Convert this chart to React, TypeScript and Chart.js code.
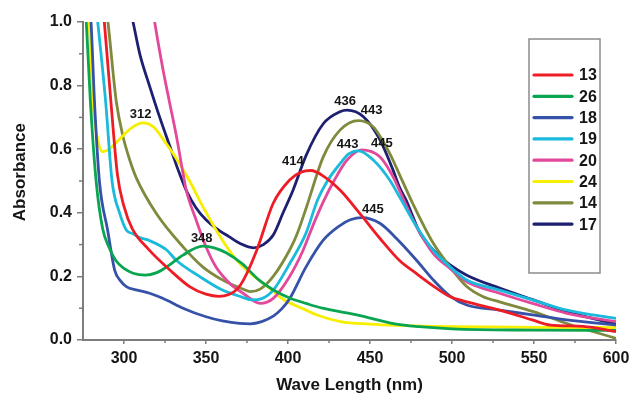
import React, { useEffect, useRef } from "react";
import { Chart, registerables } from "chart.js";

Chart.register(...registerables);

// ---------- data ----------
const seriesNames = ["13", "26", "18", "19", "20", "24", "14", "17"];
const seriesColors = ["#ee1c25", "#0aa550", "#3552a8", "#1bb9dc", "#e2499b", "#f7ee00", "#7f8a3c", "#1d1f70"];

const s13: number[][] = [
  [275, 1.6], [280, 1.42], [284, 1.2], [288, 1.0], [292, 0.75], [296, 0.52], [300, 0.42], [305, 0.35],
  [315, 0.285], [328, 0.22], [340, 0.168], [350, 0.144], [358, 0.137], [364, 0.143], [369, 0.16],
  [373, 0.19], [381, 0.283], [391, 0.43], [401, 0.503], [408, 0.528], [414, 0.533], [422, 0.514],
  [432, 0.47], [445, 0.39], [456, 0.32], [468, 0.25], [478, 0.21], [488, 0.172], [499, 0.136],
  [509, 0.12], [529, 0.094], [549, 0.063], [560, 0.047], [580, 0.043], [600, 0.026],
];
const s26: number[][] = [
  [275, 1.25], [277, 1.0], [279.5, 0.75], [283, 0.5], [287, 0.35], [291, 0.29], [295, 0.25],
  [300, 0.225], [305.5, 0.21], [313, 0.204], [320, 0.212], [326, 0.23], [336, 0.267], [348, 0.295],
  [355, 0.29], [362, 0.275], [372, 0.24], [382, 0.19], [392, 0.155], [401, 0.132], [411, 0.115],
  [421, 0.1], [442, 0.079], [466, 0.05], [480, 0.042], [500, 0.035], [550, 0.031], [600, 0.03],
];
const s18: number[][] = [
  [275, 1.3], [279.9, 1.0], [282, 0.75], [285, 0.5], [290, 0.346], [294.3, 0.22], [298, 0.185],
  [301.4, 0.168], [308, 0.157], [315.6, 0.147], [325.8, 0.126], [336, 0.1], [350, 0.073], [360, 0.06],
  [370.5, 0.052], [377, 0.051], [384, 0.058], [391, 0.075], [396, 0.097], [401, 0.13], [411, 0.23],
  [421.5, 0.314], [431.7, 0.36], [438, 0.378], [445, 0.385], [456, 0.367], [466, 0.32], [478.5, 0.25],
  [488.4, 0.19], [498.8, 0.138], [509, 0.11], [529, 0.094], [549, 0.079], [570, 0.063], [600, 0.047],
];
const s19: number[][] = [
  [275, 1.4], [280, 1.2], [284, 1.0], [288.8, 0.75], [292.7, 0.5], [297.4, 0.398], [301.4, 0.346],
  [305.5, 0.334], [309.6, 0.322], [315.8, 0.312], [326, 0.283], [332, 0.25], [346, 0.2], [360, 0.157],
  [372, 0.135], [378, 0.126], [384, 0.13], [391, 0.157], [401, 0.24], [411, 0.336], [418, 0.44],
  [424, 0.5], [432, 0.556], [437, 0.585], [443, 0.595], [452, 0.566], [462, 0.503], [468, 0.45],
  [478.5, 0.356], [488.4, 0.283], [498.8, 0.23], [509, 0.189], [529, 0.157], [549, 0.126], [570, 0.094],
  [600, 0.068],
];
const s20: number[][] = [
  [275, 2.5], [300, 1.8], [310, 1.3], [318.7, 1.0], [323.8, 0.85], [327.9, 0.744], [332, 0.64],
  [336, 0.524], [338, 0.47], [344, 0.377], [350, 0.293], [356, 0.23], [364.5, 0.178], [372.6, 0.147],
  [383, 0.115], [391, 0.131], [401, 0.2], [409, 0.28], [416, 0.37], [422, 0.44], [428, 0.5],
  [436, 0.566], [445, 0.598], [456, 0.576], [464, 0.514], [468, 0.47], [478, 0.36], [488.6, 0.272],
  [498.8, 0.225], [509, 0.183], [529, 0.147], [549, 0.115], [570, 0.084], [600, 0.058],
];
const s24: number[][] = [
  [275, 1.3], [278.7, 1.0], [281, 0.75], [284, 0.63], [287, 0.592], [291, 0.6], [297, 0.63],
  [304, 0.665], [311.6, 0.683], [318, 0.67], [324, 0.63], [332, 0.57], [340, 0.5], [348, 0.42],
  [358, 0.33], [368, 0.255], [377, 0.21], [387, 0.17], [397, 0.128], [411, 0.094], [417, 0.08],
  [432, 0.058], [450, 0.05], [466, 0.046], [500, 0.042], [550, 0.04], [600, 0.039],
];
const s14: number[][] = [
  [275, 1.6], [285, 1.2], [290.2, 1.0], [295.3, 0.75], [299.4, 0.64], [303.5, 0.566], [307.5, 0.51],
  [319.7, 0.398], [336, 0.293], [348, 0.23], [360, 0.189], [372.6, 0.16], [377, 0.152], [383, 0.16],
  [391, 0.2], [401, 0.283], [405.3, 0.33], [411.4, 0.42], [421.5, 0.576], [431.7, 0.66], [443, 0.69],
  [452, 0.67], [462, 0.587], [468, 0.52], [476, 0.43], [488.6, 0.304], [498.8, 0.23], [509, 0.168],
  [519, 0.136], [529, 0.12], [549.6, 0.089], [570, 0.052], [600, 0.005],
];
const s17: number[][] = [
  [275, 2.0], [290, 1.4], [300, 1.12], [305.5, 1.0], [309.6, 0.9], [315.7, 0.797], [321.8, 0.7],
  [327.9, 0.61], [333, 0.535], [338, 0.47], [344, 0.415], [350, 0.378], [356, 0.352], [364, 0.325],
  [371, 0.303], [378.8, 0.29], [385, 0.3], [391, 0.33], [397, 0.4], [403, 0.47], [411, 0.58],
  [421.5, 0.68], [431.7, 0.718], [436, 0.723], [446, 0.702], [456, 0.63], [464, 0.535], [468, 0.48],
  [472, 0.44], [480.5, 0.336], [488.6, 0.283], [498.8, 0.236], [509, 0.204], [529, 0.163],
  [549.6, 0.126], [570, 0.089], [600, 0.05],
];
const seriesData = [s13, s26, s18, s19, s20, s24, s14, s17];

const xTicks = [300, 350, 400, 450, 500, 550, 600];
const yTicks = [0, 0.2, 0.4, 0.6, 0.8, 1.0];
const xMinorTicks = [325, 375, 425, 475, 525, 575];
const yMinorTicks = [0.1, 0.3, 0.5, 0.7, 0.9];

// peak annotations: series index, wavelength
const peakSeries = [5, 1, 0, 7, 6, 3, 4, 2];
const peakWavelengths = [312, 348, 414, 436, 443, 443, 445, 445];

const xTitle = "Wave Length (nm)";
const yTitle = "Absorbance";

// ---------- styles ----------
const labelOffsets = [
  [-3, -9], [-1, -8], [-18, -9], [-2, -9], [13, -10], [-11, -6], [20, -6], [11, -8],
];
const FONT = "'Liberation Sans', Arial, Helvetica, sans-serif";
const AXIS_COLOR = "#7d7d7d";
const TEXT_COLOR = "#151515";

function valueAt(series: number[][], x: number): number {
  for (let i = 0; i < series.length - 1; i++) {
    const a = series[i], b = series[i + 1];
    if (x >= a[0] && x <= b[0]) return a[1] + ((b[1] - a[1]) * (x - a[0])) / (b[0] - a[0]);
  }
  return series[series.length - 1][1];
}

const decorPlugin = {
  id: "decor",
  afterDraw(chart: any) {
    const ctx = chart.ctx as CanvasRenderingContext2D;
    const xs = chart.scales.x;
    const ys = chart.scales.y;
    const area = chart.chartArea;
    ctx.save();
    // minor ticks
    ctx.strokeStyle = AXIS_COLOR;
    ctx.lineWidth = 1.5;
    yMinorTicks.forEach((v) => {
      const p = ys.getPixelForValue(v);
      ctx.beginPath();
      ctx.moveTo(area.left - 4, p);
      ctx.lineTo(area.left, p);
      ctx.stroke();
    });
    xMinorTicks.forEach((v) => {
      const p = xs.getPixelForValue(v);
      ctx.beginPath();
      ctx.moveTo(p, area.bottom);
      ctx.lineTo(p, area.bottom + 3);
      ctx.stroke();
    });

    // y axis title
    ctx.save();
    ctx.font = `bold 17px ${FONT}`;
    ctx.fillStyle = TEXT_COLOR;
    ctx.textAlign = "center";
    ctx.textBaseline = "middle";
    ctx.translate(20, area.top + (area.bottom - area.top) * 0.472);
    ctx.rotate(-Math.PI / 2);
    ctx.fillText(yTitle, 0, 0);
    ctx.restore();

    // peak labels
    ctx.font = `bold 13px ${FONT}`;
    ctx.fillStyle = TEXT_COLOR;
    ctx.textAlign = "center";
    ctx.textBaseline = "middle";
    peakWavelengths.forEach((w, i) => {
      const s = seriesData[peakSeries[i]];
      const px = xs.getPixelForValue(w);
      const py = ys.getPixelForValue(valueAt(s, w));
      ctx.fillText(String(w), px + labelOffsets[i][0], py + labelOffsets[i][1]);
    });

    // legend box
    const boxLeft = area.right - 87;
    const boxTop = area.top + 17;
    const boxW = 71;
    const boxH = 234;
    ctx.fillStyle = "#ffffff";
    ctx.fillRect(boxLeft, boxTop, boxW, boxH);
    ctx.strokeStyle = "#8c8c8c";
    ctx.lineWidth = 1.5;
    ctx.strokeRect(boxLeft, boxTop, boxW, boxH);
    ctx.font = `bold 16px ${FONT}`;
    ctx.textAlign = "left";
    ctx.textBaseline = "middle";
    seriesNames.forEach((name, i) => {
      const y = boxTop + 36 + i * 21.3;
      ctx.strokeStyle = seriesColors[i];
      ctx.lineWidth = 3.2;
      ctx.lineCap = "round";
      ctx.beginPath();
      ctx.moveTo(boxLeft + 5, y);
      ctx.lineTo(boxLeft + 43, y);
      ctx.stroke();
      ctx.fillStyle = TEXT_COLOR;
      ctx.fillText(name, boxLeft + 50, y + 1);
    });
    ctx.restore();
  },
};

export default function App() {
  const canvasRef = useRef<HTMLCanvasElement | null>(null);

  useEffect(() => {
    const canvas = canvasRef.current;
    if (!canvas) return;
    const chart = new Chart(canvas, {
      type: "line",
      data: {
        datasets: seriesNames.map((name, i) => ({
          label: name,
          data: seriesData[i].map((p) => ({ x: p[0], y: p[1] })),
          borderColor: seriesColors[i],
          backgroundColor: seriesColors[i],
          borderWidth: 2.8,
          pointRadius: 0,
          tension: 0.4,
          cubicInterpolationMode: "monotone" as const,
          fill: false,
          clip: 0,
        })),
      },
      options: {
        animation: false,
        responsive: false,
        devicePixelRatio: 1,
        layout: { padding: { top: 22, right: 15, left: 0, bottom: 0 } },
        plugins: { legend: { display: false }, tooltip: { enabled: false } },
        scales: {
          x: {
            type: "linear",
            min: 275,
            max: 600,
            afterBuildTicks: (scale: any) => {
              scale.ticks = xTicks.map((v) => ({ value: v }));
            },
            afterFit: (scale: any) => {
              scale.height = 56;
              scale.paddingRight = 0;
              scale.paddingLeft = 0;
            },
            grid: { display: true, drawOnChartArea: false, drawTicks: true, tickLength: 4, color: AXIS_COLOR, lineWidth: 1.5 },
            border: { display: true, color: AXIS_COLOR, width: 2 },
            ticks: {
              padding: 5,
              color: TEXT_COLOR,
              font: { family: FONT, size: 16, weight: "bold" },
              maxRotation: 0,
              callback: (v: any) => String(v),
            },
            title: {
              display: true,
              text: xTitle,
              color: TEXT_COLOR,
              font: { family: FONT, size: 17, weight: "bold" },
              padding: { top: 0, bottom: 0 },
            },
          },
          y: {
            type: "linear",
            min: 0,
            max: 1.0,
            afterBuildTicks: (scale: any) => {
              scale.ticks = yTicks.map((v) => ({ value: v }));
            },
            afterFit: (scale: any) => {
              scale.width = 83;
              scale.paddingTop = 0;
              scale.paddingBottom = 0;
            },
            grid: { display: true, drawOnChartArea: false, drawTicks: true, tickLength: 6, color: AXIS_COLOR, lineWidth: 1.5 },
            border: { display: true, color: AXIS_COLOR, width: 2 },
            ticks: {
              padding: 5,
              color: TEXT_COLOR,
              font: { family: FONT, size: 16, weight: "bold" },
              callback: (v: any) => Number(v).toFixed(1),
            },
            title: { display: false },
          },
        },
      },
      plugins: [decorPlugin],
    });
    return () => chart.destroy();
  }, []);

  return (
    <div style={{ position: "fixed", left: 0, top: 0, width: 631, height: 396, background: "#fff" }}>
      <canvas ref={canvasRef} width={631} height={396} style={{ display: "block", width: 631, height: 396 }} />
    </div>
  );
}
